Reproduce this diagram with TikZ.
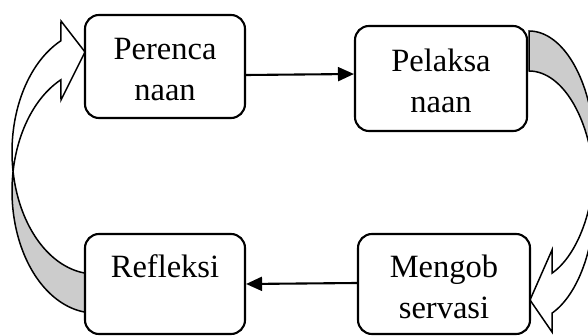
\documentclass[tikz,border=0pt]{standalone}
\usepackage{fontspec}
\setmainfont{Liberation Serif}
\usetikzlibrary{arrows.meta}
\newcommand\mytopstrut{\rule{0pt}{28pt}}
\begin{document}
\begin{tikzpicture}[x=1pt,y=-1pt,
  box/.style={draw, line width=2.1pt, rounded corners=14pt, fill=white,
    align=center, inner sep=0pt, font=\fontsize{32.5}{41}\selectfont},
  band/.style={draw, line width=1.5pt, line join=miter},
  backband/.style={band, fill=gray!40},
  frontband/.style={band, fill=white},
  conn/.style={line width=2.1pt, -{Triangle[length=16pt,width=14pt]}}]
\useasboundingbox (0,0) rectangle (588,336);
\clip (0,0) rectangle (588,336);

% left curved arrow (Refleksi -> Perencanaan)
\draw[backband]
  plot[domain=96.9:170.8, samples=50] ({95+83*cos(\x)},{152+122*sin(\x)})
  -- plot[domain=189.2:96.9, samples=50] ({95+83*cos(\x)},{191+122*sin(\x)})
  -- cycle;
\draw[frontband]
  plot[domain=170.8:245.8, samples=50] ({95+83*cos(\x)},{152+122*sin(\x)})
  -- (61,21) -- (85,52) -- (61,100)
  -- plot[domain=245.8:189.2, samples=50] ({95+83*cos(\x)},{191+122*sin(\x)})
  -- cycle;

% right curved arrow (Pelaksanaan -> Mengobservasi)
\draw[backband]
  plot[domain=-90:9.2, samples=50] ({529+66*cos(\x)},{156+125*sin(\x)})
  -- plot[domain=-9.2:-90, samples=50] ({529+66*cos(\x)},{196+125*sin(\x)})
  -- cycle;
\draw[frontband]
  plot[domain=9.2:69.6, samples=50] ({529+66*cos(\x)},{156+125*sin(\x)})
  -- (552,250) -- (530,300) -- (552,332)
  -- plot[domain=69.6:-9.2, samples=50] ({529+66*cos(\x)},{196+125*sin(\x)})
  -- cycle;

% boxes
\node[box, minimum width=160pt, minimum height=103pt] (per) at (165,66.5)
  {\mytopstrut Perenca\\naan};
\node[box, minimum width=172pt, minimum height=105pt] (pel) at (441,78.5)
  {\mytopstrut Pelaksa\\naan};
\node[box, minimum width=160pt, minimum height=100pt] (ref) at (165,284)
  {\mytopstrut Refleksi\\\mbox{}};
\node[box, minimum width=172pt, minimum height=100pt] (mob) at (444,284)
  {\mytopstrut Mengob\\servasi};

% connectors
\draw[conn] ([yshift=-8.5pt]per.east) -- ([yshift=4.5pt]pel.west);
\draw[conn] ([yshift=1pt]mob.west) -- (ref.east);
\end{tikzpicture}
\end{document}
